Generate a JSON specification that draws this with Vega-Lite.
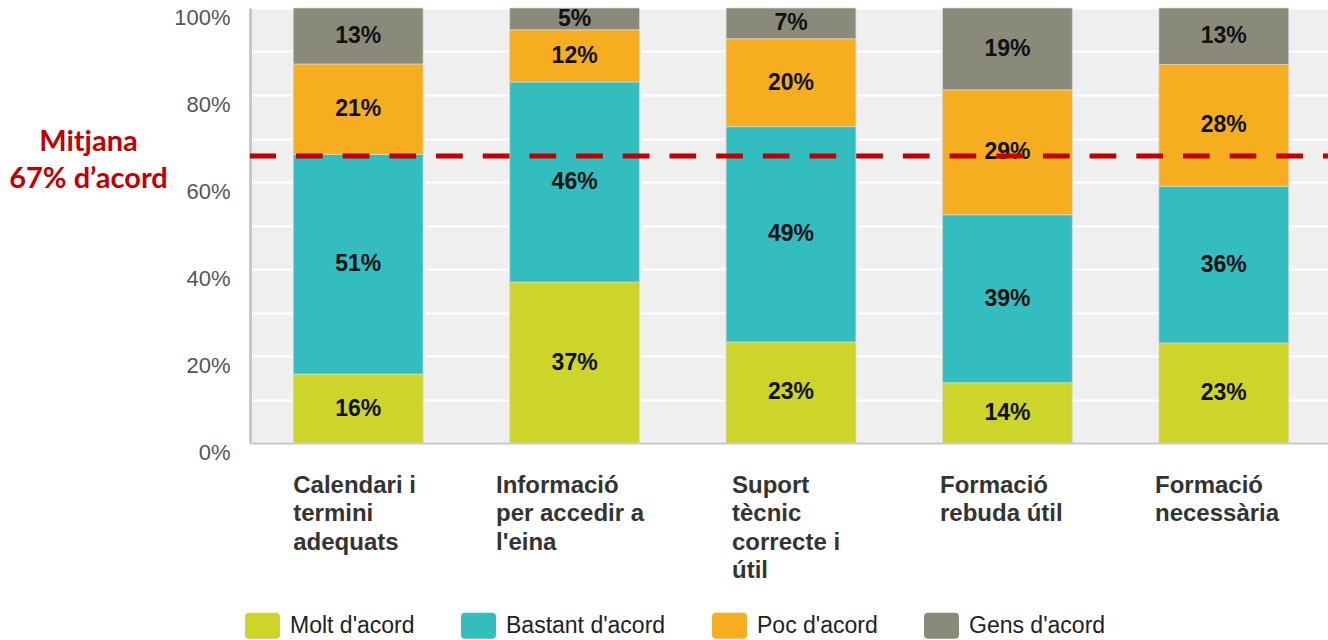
{
  "$schema": "https://vega.github.io/schema/vega-lite/v6.json",
  "width": 1078,
  "height": 435,
  "autosize": {"type": "none"},
  "padding": {"left": 250, "top": 8, "right": 0, "bottom": 197},
  "background": "white",
  "config": {
    "view": {"fill": "#efefef", "stroke": null},
    "font": "Liberation Sans"
  },
  "data": {
    "values": [
      {"cat": "Calendari i termini adequats", "nivell": "Molt d'acord", "ord": 1, "v": 16},
      {"cat": "Calendari i termini adequats", "nivell": "Bastant d'acord", "ord": 2, "v": 51},
      {"cat": "Calendari i termini adequats", "nivell": "Poc d'acord", "ord": 3, "v": 21},
      {"cat": "Calendari i termini adequats", "nivell": "Gens d'acord", "ord": 4, "v": 13},
      {"cat": "Informació per accedir a l'eina", "nivell": "Molt d'acord", "ord": 1, "v": 37},
      {"cat": "Informació per accedir a l'eina", "nivell": "Bastant d'acord", "ord": 2, "v": 46},
      {"cat": "Informació per accedir a l'eina", "nivell": "Poc d'acord", "ord": 3, "v": 12},
      {"cat": "Informació per accedir a l'eina", "nivell": "Gens d'acord", "ord": 4, "v": 5},
      {"cat": "Suport tècnic correcte i útil", "nivell": "Molt d'acord", "ord": 1, "v": 23},
      {"cat": "Suport tècnic correcte i útil", "nivell": "Bastant d'acord", "ord": 2, "v": 49},
      {"cat": "Suport tècnic correcte i útil", "nivell": "Poc d'acord", "ord": 3, "v": 20},
      {"cat": "Suport tècnic correcte i útil", "nivell": "Gens d'acord", "ord": 4, "v": 7},
      {"cat": "Formació rebuda útil", "nivell": "Molt d'acord", "ord": 1, "v": 14},
      {"cat": "Formació rebuda útil", "nivell": "Bastant d'acord", "ord": 2, "v": 39},
      {"cat": "Formació rebuda útil", "nivell": "Poc d'acord", "ord": 3, "v": 29},
      {"cat": "Formació rebuda útil", "nivell": "Gens d'acord", "ord": 4, "v": 19},
      {"cat": "Formació necessària", "nivell": "Molt d'acord", "ord": 1, "v": 23},
      {"cat": "Formació necessària", "nivell": "Bastant d'acord", "ord": 2, "v": 36},
      {"cat": "Formació necessària", "nivell": "Poc d'acord", "ord": 3, "v": 28},
      {"cat": "Formació necessària", "nivell": "Gens d'acord", "ord": 4, "v": 13}
    ]
  },
  "transform": [
    {"stack": "v", "groupby": ["cat"], "sort": [{"field": "ord", "order": "ascending"}], "as": ["y0", "y1"], "offset": "normalize"},
    {"calculate": "(datum.y0 + datum.y1) / 2", "as": "mid"},
    {"calculate": "datum.v + '%'", "as": "lbl"}
  ],
  "layer": [
    {
      "mark": {"type": "bar", "stroke": "#d9d9d9", "strokeWidth": 1, "strokeOpacity": 0.7},
      "encoding": {
        "x": {
          "field": "cat",
          "type": "nominal",
          "sort": ["Calendari i termini adequats", "Informació per accedir a l'eina", "Suport tècnic correcte i útil", "Formació rebuda útil", "Formació necessària"],
          "scale": {"paddingInner": 0.4, "paddingOuter": 0.2, "range": [0, 1082]},
          "axis": {
            "title": null,
            "labelAngle": 0,
            "labelAlign": "left",
            "labelBaseline": "top",
            "labelOffset": {
              "condition": [
                {"test": "datum.value == \"Informació per accedir a l'eina\"", "value": -78.6},
                {"test": "datum.value == 'Suport tècnic correcte i útil'", "value": -59},
                {"test": "datum.value == 'Formació rebuda útil'", "value": -67.4},
                {"test": "datum.value == 'Formació necessària'", "value": -68.8}
              ],
              "value": -65
            },
            "labelPadding": 30,
            "labelFontSize": 24,
            "labelFontWeight": "bold",
            "labelColor": "#333333",
            "labelLineHeight": 28.5,
            "labelLimit": 0,
            "labelOverlap": false,
            "labelFlush": false,
            "labelBound": false,
            "ticks": false,
            "tickSize": 0,
            "domainColor": "#c8c8c8",
            "domainWidth": 2,
            "grid": false,
            "labelExpr": "datum.value == 'Calendari i termini adequats' ? ['Calendari i', 'termini', 'adequats'] : datum.value == \"Informació per accedir a l'eina\" ? ['Informació', 'per accedir a', \"l'eina\"] : datum.value == 'Suport tècnic correcte i útil' ? ['Suport', 'tècnic', 'correcte i', 'útil'] : datum.value == 'Formació rebuda útil' ? ['Formació', 'rebuda útil'] : ['Formació', 'necessària']"
          }
        },
        "y": {
          "field": "y0",
          "type": "quantitative",
          "scale": {"domain": [0, 1], "nice": false},
          "axis": {
            "title": ["Mitjana", "67% d’acord"],
            "titleAngle": 0,
            "titleX": -162,
            "titleY": 119,
            "titleAlign": "center",
            "titleBaseline": "top",
            "titleFont": "Lato",
            "titleFontSize": 29,
            "titleFontWeight": "bold",
            "titleColor": "#c00000",
            "titleLineHeight": 37,
            "values": [0, 0.1, 0.2, 0.3, 0.4, 0.5, 0.6, 0.7, 0.8, 0.9, 1],
            "labelExpr": "round(datum.value * 100) % 20 == 0 ? format(datum.value, '.0%') : ''",
            "labelFontSize": 22,
            "labelColor": "#555555",
            "labelOffset": 9,
            "labelPadding": 20,
            "labelOverlap": false,
            "labelFlush": false,
            "labelBound": false,
            "ticks": false,
            "tickSize": 0,
            "domainColor": "#c8c8c8",
            "domainWidth": 3,
            "grid": true,
            "gridColor": "#ffffff",
            "gridWidth": 2,
            "gridOpacity": 1
          }
        },
        "y2": {"field": "y1"},
        "color": {
          "field": "nivell",
          "type": "nominal",
          "scale": {
            "domain": ["Molt d'acord", "Bastant d'acord", "Poc d'acord", "Gens d'acord"],
            "range": ["#cdd42a", "#33bdbf", "#f6ae20", "#8a8a7a"]
          },
          "legend": {
            "title": null,
            "orient": "none",
            "direction": "horizontal",
            "legendX": -5,
            "legendY": 600,
            "padding": 0,
            "symbolType": "M -0.77 -0.743 H 0.77 Q 1 -0.743 1 -0.51 V 0.51 Q 1 0.743 0.77 0.743 H -0.77 Q -1 0.743 -1 0.51 V -0.51 Q -1 -0.743 -0.77 -0.743 Z",
            "symbolSize": 1225,
            "symbolStrokeWidth": 0,
            "symbolOpacity": 1,
            "labelFontSize": 23,
            "labelColor": "#222222",
            "labelOffset": 10,
            "labelLimit": 0,
            "columnPadding": 46
          }
        }
      }
    },
    {
      "mark": {"type": "text", "fontSize": 23, "fontWeight": "bold", "color": "#111111", "baseline": "middle", "align": "center"},
      "encoding": {
        "x": {"field": "cat", "type": "nominal", "sort": ["Calendari i termini adequats", "Informació per accedir a l'eina", "Suport tècnic correcte i útil", "Formació rebuda útil", "Formació necessària"]},
        "y": {"field": "mid", "type": "quantitative"},
        "text": {"field": "lbl"}
      }
    },
    {
      "data": {"values": [{"mitjana": 0.66}]},
      "mark": {"type": "rule", "color": "#c00000", "strokeWidth": 5, "strokeDash": [26.7, 19.98], "strokeDashOffset": 21.7},
      "encoding": {
        "y": {"field": "mitjana", "type": "quantitative"}
      }
    }
  ]
}
